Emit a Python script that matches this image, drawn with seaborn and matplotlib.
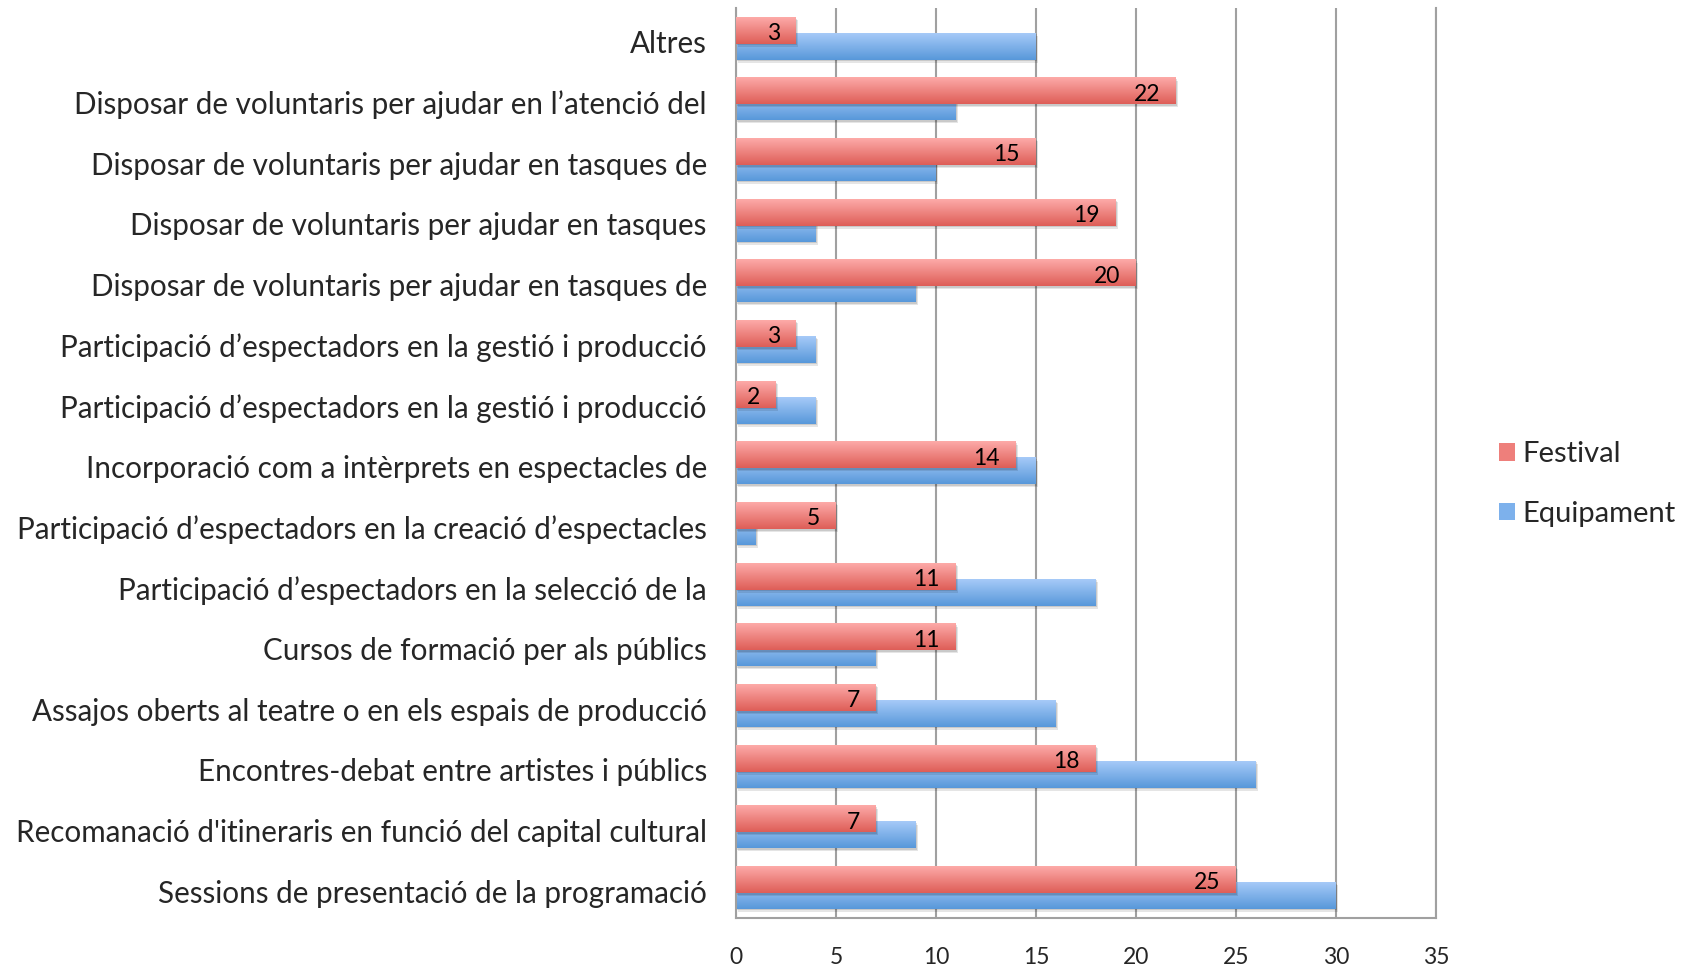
import numpy as np
import pandas as pd
import matplotlib
matplotlib.use("Agg")
import matplotlib.pyplot as plt
import seaborn as sns
from matplotlib.patches import Patch, Rectangle
from matplotlib.transforms import ScaledTranslation

categories = [
    "Altres",
    "Disposar de voluntaris per ajudar en l’atenció del",
    "Disposar de voluntaris per ajudar en tasques de",
    "Disposar de voluntaris per ajudar en tasques",
    "Disposar de voluntaris per ajudar en tasques de ",
    "Participació d’espectadors en la gestió i producció",
    "Participació d’espectadors en la gestió i producció ",
    "Incorporació com a intèrprets en espectacles de",
    "Participació d’espectadors en la creació d’espectacles",
    "Participació d’espectadors en la selecció de la",
    "Cursos de formació per als públics",
    "Assajos oberts al teatre o en els espais de producció",
    "Encontres-debat entre artistes i públics",
    "Recomanació d'itineraris en funció del capital cultural",
    "Sessions de presentació de la programació",
]
festival = [3, 22, 15, 19, 20, 3, 2, 14, 5, 11, 11, 7, 18, 7, 25]
equipament = [15, 11, 10, 4, 9, 4, 4, 15, 1, 18, 7, 16, 26, 9, 30]
series = ["Festival", "Equipament"]
xticks = [0, 5, 10, 15, 20, 25, 30, 35]

sns.set_theme(style="white")
plt.rcParams["font.family"] = ["Lato", "DejaVu Sans"]

df = pd.DataFrame({
    "category": categories * 2,
    "value": festival + equipament,
    "series": ["Festival"] * len(categories) + ["Equipament"] * len(categories),
})

grad = {
    "Festival": ("#FDAAA8", "#DE5E58"),
    "Equipament": ("#A6CAF8", "#5898DA"),
}
mid = {"Festival": "#EE7F7B", "Equipament": "#7DB1EC"}

fig = plt.figure(figsize=(17, 9.66), dpi=100)
ax = fig.add_axes([736 / 1700, 1 - 918 / 966, 700 / 1700, 910 / 966])

sns.barplot(data=df, y="category", x="value", hue="series", hue_order=series,
            palette=[mid[s] for s in series], orient="h", dodge=True,
            width=0.88, ax=ax, legend=False, order=categories)

n = len(categories)
patches = list(ax.patches)
bar_h = 0.44
shift = 0.09
for k, p in enumerate(patches):
    s = series[k // n] if k < 2 * n else None
    if s is None:
        continue
    y = p.get_y()
    if s == "Festival":
        p.set_y(y + shift)
        z = 3
    else:
        p.set_y(y - shift)
        z = 2
    p.set_height(bar_h)
    p.set_facecolor("none")
    p.set_edgecolor("none")
    x0, y0, w, h = p.get_x(), p.get_y(), p.get_width(), p.get_height()
    # soft shadow
    for dx, dy, a in [(0.12, 0.05, 0.10), (0.06, 0.025, 0.12)]:
        ax.add_patch(Rectangle((x0 + dx, y0 + dy), w, h, facecolor="black",
                               alpha=a, edgecolor="none", zorder=z - 0.5))
    ct, cb = grad[s]
    ct = np.array(matplotlib.colors.to_rgb(ct))
    cb = np.array(matplotlib.colors.to_rgb(cb))
    t = np.linspace(0, 1, 64).reshape(-1, 1, 1)
    arr = ct * (1 - t) + cb * t
    arr = np.repeat(arr, 2, axis=1)
    ax.imshow(arr, extent=(x0, x0 + w, y0 + h, y0), origin="upper",
              aspect="auto", zorder=z, interpolation="bilinear")

# data labels for Festival
for i, v in enumerate(festival):
    ax.text(v - 0.8, i - 0.08, str(v), ha="right", va="center",
            fontsize=16.5, color="black", zorder=5)

ax.set_xlim(0, 35)
ax.set_ylim(n - 0.5, -0.5)
ax.set_xticks(xticks)
ax.set_xticklabels([str(t) for t in xticks], fontsize=16.5)
ax.set_yticks(range(n))
ax.set_yticklabels([c.strip() for c in categories], fontsize=21.3)
ax.tick_params(axis="x", length=0, pad=21)
ax.tick_params(axis="y", length=0, pad=21)
off = ScaledTranslation(0, -3.5 / 100, fig.dpi_scale_trans)
for lab in ax.get_yticklabels():
    lab.set_transform(lab.get_transform() + off)
ax.set_xlabel("")
ax.set_ylabel("")
ax.grid(axis="x", color="#A0A0A0", linewidth=1.5)
ax.grid(axis="y", visible=False)
ax.set_axisbelow(True)
for side in ["left", "bottom", "right"]:
    ax.spines[side].set_visible(True)
    ax.spines[side].set_color("#A0A0A0")
    ax.spines[side].set_linewidth(1.5)
ax.spines["top"].set_visible(False)

handles = [Patch(facecolor=mid[s], edgecolor="none") for s in series]
fig.legend(handles, series, loc="center left", bbox_to_anchor=(1499 / 1700, 1 - 484 / 966),
           frameon=False, fontsize=21, handlelength=0.55, handleheight=0.55,
           handletextpad=0.25, labelspacing=1.15, borderpad=0, borderaxespad=0)

fig.savefig("out.png", dpi=100)
